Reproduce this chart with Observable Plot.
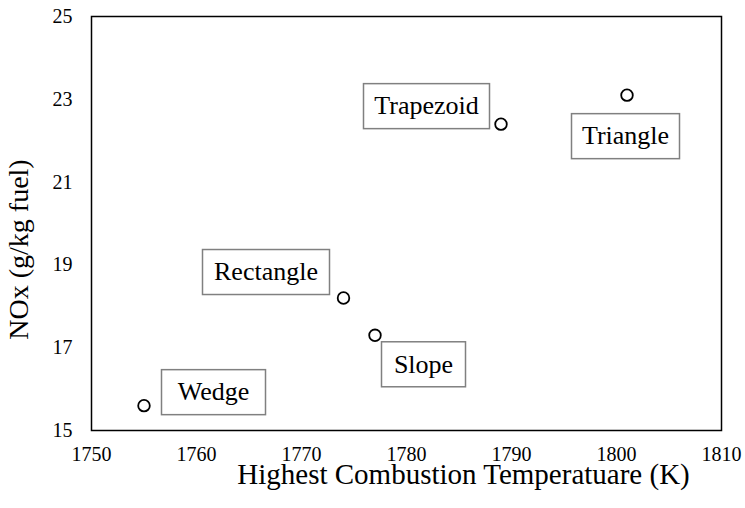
<!DOCTYPE html>
<html>
<head>
<meta charset="utf-8">
<script src="https://cdn.jsdelivr.net/npm/d3@7"></script>
<script src="https://cdn.jsdelivr.net/npm/@observablehq/plot@0.6"></script>
<style>
  html, body { margin: 0; padding: 0; background: #ffffff; }
  #chart svg { display: block; }
</style>
</head>
<body>
<div id="chart"></div>
<script>
// ---- data ----
const shapes = ["Wedge", "Rectangle", "Slope", "Trapezoid", "Triangle"];
const temperature = [1755, 1774, 1777, 1789, 1801];
const nox = [15.6, 18.2, 17.3, 22.4, 23.1];
const xTicks = [1750, 1760, 1770, 1780, 1790, 1800, 1810];
const yTicks = [15, 17, 19, 21, 23, 25];
const xTitle = "Highest Combustion Temperatuare (K)";
const yTitle = "NOx (g/kg fuel)";

const points = shapes.map((s, i) => ({shape: s, t: temperature[i], n: nox[i]}));

// ---- layout: label box offset from its point [dx, dy] and box width, in px ----
const FONT = "'Liberation Serif', 'Times New Roman', Times, serif";
const LABEL_SIZE = 26;
const labelBox = {
  Wedge: [69.5, -13.5, 104],
  Rectangle: [-77.5, -26, 127],
  Slope: [48.5, 29, 84],
  Trapezoid: [-74.5, -18, 126],
  Triangle: [-1.5, 41, 108]
};
const BOX_H = 45;

function boxedLabels(index, scales, values, dims, ctx, next) {
  const g = next(index, scales, values, dims, ctx);
  const ns = "http://www.w3.org/2000/svg";
  d3.select(g).selectAll("text").each(function(i) {
    const d = points[i];
    const [ox, oy, w] = labelBox[d.shape];
    const cx = scales.x(d.t) + ox;
    const cy = scales.y(d.n) + oy;
    this.setAttribute("transform", `translate(${cx},${cy})`);
    const r = document.createElementNS(ns, "rect");
    r.setAttribute("x", cx - w / 2);
    r.setAttribute("y", cy - BOX_H / 2);
    r.setAttribute("width", w);
    r.setAttribute("height", BOX_H);
    r.setAttribute("fill", "white");
    r.setAttribute("stroke", "#808080");
    r.setAttribute("stroke-width", 1.5);
    this.parentNode.insertBefore(r, this);
  });
  return g;
}

const chart = Plot.plot({
  width: 745,
  height: 508,
  marginLeft: 91,
  marginRight: 24,
  marginTop: 16,
  marginBottom: 78,
  style: {fontFamily: FONT, background: "white", color: "black"},
  x: {domain: [1750, 1810]},
  y: {domain: [15, 25]},
  marks: [
    Plot.axisX({ticks: xTicks, tickSize: 0, tickPadding: 16, fontSize: 20, label: null, tickFormat: d => String(d)}),
    Plot.axisY({ticks: yTicks, tickSize: 0, tickPadding: 19, fontSize: 20, label: null}),
    Plot.frame({stroke: "black", strokeWidth: 1.5}),
    Plot.dot(points, {x: "t", y: "n", r: 5.8, stroke: "black", strokeWidth: 1.8, fill: "white"}),
    Plot.text(points, {x: "t", y: "n", text: "shape", fontSize: LABEL_SIZE, fill: "black", render: boxedLabels}),
    Plot.text([xTitle], {frameAnchor: "bottom", textAnchor: "middle", lineAnchor: "bottom", dx: 57, dy: 53, fontSize: 29, fill: "black"}),
    Plot.text([yTitle], {frameAnchor: "left", textAnchor: "middle", lineAnchor: "middle", dx: -72, dy: 26, rotate: -90, fontSize: 28, fill: "black"})
  ]
});
document.getElementById("chart").appendChild(chart);
</script>
</body>
</html>
